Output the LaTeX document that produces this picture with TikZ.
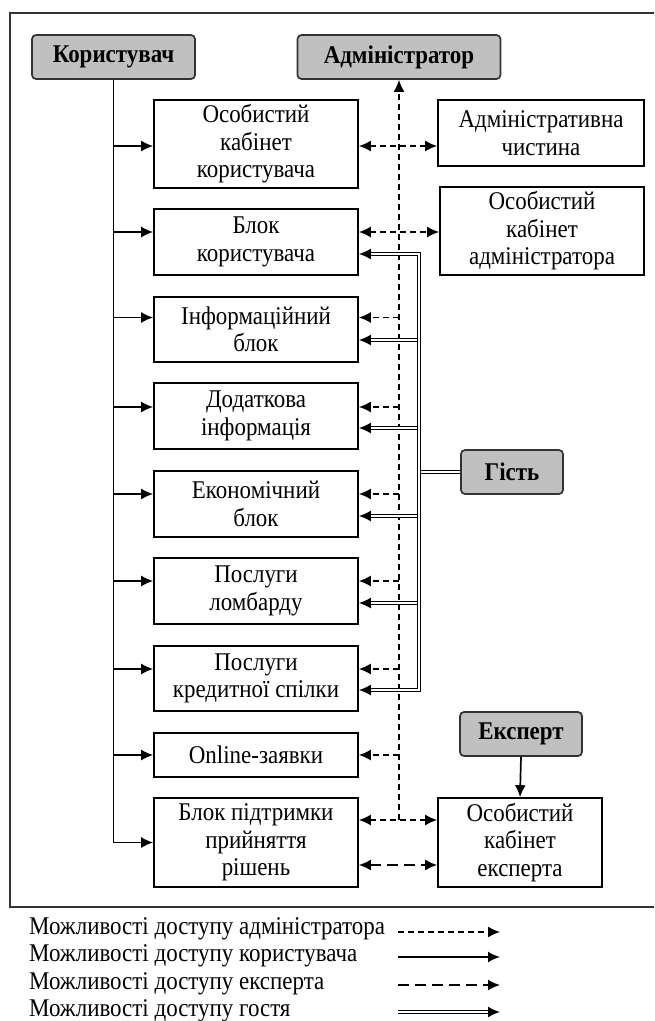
\documentclass[tikz,border=0pt]{standalone}
\usepackage{fontspec}
\setmainfont{Liberation Serif}[FakeStretch=0.9]
\usetikzlibrary{arrows.meta}
\definecolor{rolefill}{HTML}{C0C0C0}
\definecolor{roleedge}{HTML}{333333}
\begin{document}
\begin{tikzpicture}[x=1pt,y=-1pt,
  font=\fontsize{25.5}{27.5}\selectfont,
  module/.style={draw, line width=1.7pt, align=center, inner sep=0pt, minimum width=204pt},
  role/.style={draw=roleedge, fill=rolefill, rounded corners=4pt, line width=1.7pt,
    font=\fontsize{25.5}{27.5}\selectfont\bfseries, inner sep=0pt, minimum height=44pt},
  tip/.style={-{Latex[length=12pt,width=11pt]}},
  both/.style={{Latex[length=12pt,width=11pt]}-{Latex[length=12pt,width=11pt]}},
  usr/.style={line width=1.7pt},
  adm/.style={line width=1.5pt, dash pattern=on 6pt off 4pt},
  expt/.style={line width=1.6pt, dash pattern=on 11pt off 6pt},
  gst/.style={double, double distance=2.4pt, line width=1.2pt},
  legtext/.style={anchor=west, inner sep=0pt}
]
\useasboundingbox (0,0) rectangle (654,1021);

% outer frame (open on the right)
\draw[line width=1.8pt, color=roleedge] (654,13) -- (10,13) -- (10,907) -- (654,907);

% roles
\node[role, minimum width=163pt] (user)   at (113.5,57) {Користувач};
\node[role, minimum width=203pt] (admin)  at (399,57)   {Адміністратор};
\node[role, minimum width=102pt] (guest)  at (512,472)  {Гість};
\node[role, minimum width=122pt] (expert) at (521,734)  {Експерт};

% system modules
\node[module, minimum height=88pt] (b1) at (256,144)   {Особистий\\кабінет\\користувача};
\node[module, minimum height=66pt] (b2) at (256,242)   {Блок\\користувача};
\node[module, minimum height=65pt] (b3) at (256,329.5) {Інформаційний\\блок};
\node[module, minimum height=66pt] (b4) at (256,416)   {Додаткова\\інформація};
\node[module, minimum height=66pt] (b5) at (256,504)   {Економічний\\блок};
\node[module, minimum height=66pt] (b6) at (256,591)   {Послуги\\ломбарду};
\node[module, minimum height=65pt] (b7) at (256,678.5) {Послуги\\кредитної спілки};
\node[module, minimum height=44pt] (b8) at (256,755)   {Online-заявки};
\node[module, minimum height=89pt] (b9) at (256,842.5) {Блок підтримки\\прийняття\\рішень};

\node[module, minimum width=206pt, minimum height=66pt] (adm)    at (541,133)   {Адміністративна\\чистина};
\node[module, minimum width=204pt, minimum height=88pt] (admcab) at (542,231)   {Особистий\\кабінет\\адміністратора};
\node[module, minimum width=164pt, minimum height=89pt] (expcab) at (520,842.5) {Особистий\\кабінет\\експерта};

% connector rows on the modules
\coordinate (ra1) at ([yshift=-2pt]b1.east);
\coordinate (ra2) at ([yshift=10pt]b2.east);   \coordinate (rg2) at ([yshift=-12pt]b2.east);
\coordinate (ra3) at ([yshift=12pt]b3.east);   \coordinate (rg3) at ([yshift=-10.5pt]b3.east);
\coordinate (ra4) at ([yshift=9pt]b4.east);    \coordinate (rg4) at ([yshift=-12pt]b4.east);
\coordinate (ra5) at ([yshift=10pt]b5.east);   \coordinate (rg5) at ([yshift=-12pt]b5.east);
\coordinate (ra6) at ([yshift=10pt]b6.east);   \coordinate (rg6) at ([yshift=-12pt]b6.east);
\coordinate (ra7) at ([yshift=9.5pt]b7.east);  \coordinate (rg7) at ([yshift=-11.5pt]b7.east);
\coordinate (ra8) at (b8.east);
\coordinate (ra9) at ([yshift=22.5pt]b9.east); \coordinate (re9) at ([yshift=-22.5pt]b9.east);
\coordinate (gj) at (419,472);

% user access
\draw[usr] (user.south) -- (user.south |- b9.west);
\foreach \i in {1,...,8}{
  \draw[usr, tip] (user.south |- ra\i) -- (b\i.west |- ra\i);
}
\draw[usr, tip] (user.south |- b9.west) -- (b9.west);

% administrator access
\draw[adm, tip] (admin.south |- ra9) -- (admin.south);
\draw[adm, both] (ra1) -- (ra1 -| adm.west);
\draw[adm, both] (ra2) -- (ra2 -| admcab.west);
\foreach \i in {3,...,8}{
  \draw[adm, tip] (admin.south |- ra\i) -- (ra\i);
}
\draw[adm, both] (ra9) -- (ra9 -| expcab.west);

% expert access
\draw[usr, tip] (expert.south) -- (expcab.north);
\draw[expt, both] (re9) -- (re9 -| expcab.west);

% guest access: double lines ending in solid heads
\draw[gst] (guest.west) -- (gj);
\foreach \i in {4,3,2,5,6,7}{
  \draw[gst, shorten >=9pt] (gj) |- (rg\i);
}
\foreach \i in {2,...,7}{
  \draw[usr, tip] ([xshift=12pt]rg\i) -- (rg\i);
}

% legend
\node[legtext] (l1) at (29,929)  {Можливості доступу адміністратора};
\node[legtext] (l2) at (29,956)  {Можливості доступу користувача};
\node[legtext] (l3) at (29,984)  {Можливості доступу експерта};
\node[legtext] (l4) at (29,1011) {Можливості доступу гостя};
\coordinate (s1) at (398,932);  \coordinate (e1) at (500,932);
\coordinate (s2) at (398,957);  \coordinate (e2) at (500,957);
\coordinate (s3) at (398,985);  \coordinate (e3) at (500,985);
\coordinate (s4) at (398,1012); \coordinate (e4) at (500,1012);
\draw[adm, tip] (s1) -- (e1);
\draw[usr, tip] (s2) -- (e2);
\draw[expt, tip] (s3) -- (e3);
\draw[gst, shorten >=9pt] (s4) -- (e4);
\draw[usr, tip] ([xshift=-12pt]e4) -- (e4);
\end{tikzpicture}
\end{document}
